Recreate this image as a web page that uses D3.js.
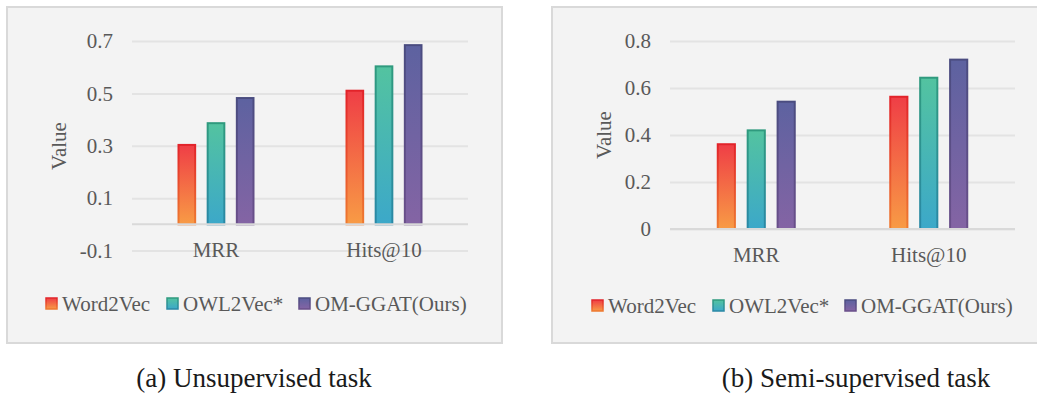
<!DOCTYPE html>
<html><head><meta charset="utf-8">
<script src="https://cdn.jsdelivr.net/npm/d3@7"></script>
<style>
html,body{margin:0;padding:0;background:#fff;}
svg{display:block;}
svg text{font-family:"Liberation Serif","Tinos","Times New Roman","DejaVu Serif",serif;}
</style></head>
<body>
<svg id="chart" width="1037" height="398"></svg>
<script>
const categories = ["MRR", "Hits@10"];
const seriesNames = ["Word2Vec", "OWL2Vec*", "OM-GGAT(Ours)"];
const unsupervisedValues = [[0.307, 0.514], [0.390, 0.607], [0.486, 0.688]];
const semiValues = [[0.365, 0.567], [0.424, 0.648], [0.546, 0.725]];
const unsupervisedTicks = [-0.1, 0.1, 0.3, 0.5, 0.7];
const semiTicks = [0, 0.2, 0.4, 0.6, 0.8];
const captions = ["(a) Unsupervised task", "(b) Semi-supervised task"];

const gradients = [
  {top: "#ef3e46", bottom: "#f89b45", sTop: "#e2232a", sBottom: "#ee7a30"},
  {top: "#53c3a0", bottom: "#3ca8c9", sTop: "#2f9a7e", sBottom: "#2a88a6"},
  {top: "#5d62a0", bottom: "#8464a4", sTop: "#4a4c80", sBottom: "#6a4f8a"}
];

const svg = d3.select("#chart");
const defs = svg.append("defs");
gradients.forEach((g, i) => {
  const lg = defs.append("linearGradient").attr("id", "fill" + i)
    .attr("x1", 0).attr("y1", 0).attr("x2", 0).attr("y2", 1);
  lg.append("stop").attr("offset", "0%").attr("stop-color", g.top);
  lg.append("stop").attr("offset", "100%").attr("stop-color", g.bottom);
  const ls = defs.append("linearGradient").attr("id", "stroke" + i)
    .attr("x1", 0).attr("y1", 0).attr("x2", 0).attr("y2", 1);
  ls.append("stop").attr("offset", "0%").attr("stop-color", g.sTop);
  ls.append("stop").attr("offset", "100%").attr("stop-color", g.sBottom);
});

const font = '"Liberation Serif","Tinos","Times New Roman","DejaVu Serif",serif';
const fs = 21;

function panel(cfg) {
  const g = svg.append("g");
  g.append("rect").attr("x", cfg.box[0]).attr("y", cfg.box[1])
    .attr("width", cfg.box[2]).attr("height", cfg.box[3])
    .attr("fill", "#f3f3f3").attr("stroke", "#d9d9d9").attr("stroke-width", 2);

  const y = d3.scaleLinear().domain(cfg.domain).range([cfg.yBottom, cfg.yTop]);
  const x0 = d3.scaleBand().domain(categories).range([cfg.xLeft, cfg.xRight]);
  const x1 = d3.scaleBand().domain(d3.range(seriesNames.length))
    .range([x0.bandwidth()/2 - cfg.groupW/2, x0.bandwidth()/2 + cfg.groupW/2]).paddingInner(cfg.innerPad);

  const axis = d3.axisLeft(y).tickValues(cfg.ticks).tickSize(-(cfg.xRight - cfg.xLeft))
    .tickPadding(19).tickFormat(d => String(+d.toFixed(1)));
  const ag = g.append("g").attr("transform", `translate(${cfg.xLeft},0)`).call(axis)
    .attr("font-family", font).attr("font-size", fs);
  ag.select(".domain").remove();
  ag.selectAll(".tick line").attr("stroke", "#e3e3e3").attr("stroke-width", 2);
  ag.selectAll(".tick text").attr("fill", "#595959");

  const groups = g.selectAll(".grp").data(categories).enter().append("g")
    .attr("transform", d => `translate(${x0(d)},0)`);
  groups.selectAll("rect").data((c, ci) => seriesNames.map((s, si) => ({si, v: cfg.values[si][ci]})))
    .enter().append("rect")
    .attr("x", d => x1(d.si) + 1)
    .attr("width", x1.bandwidth() - 2)
    .attr("y", d => y(d.v) + 1)
    .attr("height", d => y(0) - y(d.v) - 1)
    .attr("fill", d => `url(#fill${d.si})`)
    .attr("stroke", d => `url(#stroke${d.si})`)
    .attr("stroke-width", 2);

  g.append("line").attr("x1", cfg.xLeft).attr("x2", cfg.xRight)
    .attr("y1", y(0)).attr("y2", y(0)).attr("stroke", "#d9d9d9").attr("stroke-width", 2);

  g.selectAll(".cat").data(categories).enter().append("text")
    .attr("x", d => x0(d) + x0.bandwidth()/2).attr("y", cfg.catY)
    .attr("text-anchor", "middle").attr("fill", "#595959")
    .attr("font-size", fs).text(d => d);

  g.append("text").attr("transform", `translate(${cfg.titleX},${cfg.titleY}) rotate(-90)`)
    .attr("text-anchor", "middle").attr("fill", "#595959")
    .attr("font-size", fs).text("Value");

  const lg = g.append("g");
  seriesNames.forEach((s, i) => {
    lg.append("rect").attr("x", cfg.legendX[i]).attr("y", cfg.legendY - 6)
      .attr("width", 11).attr("height", 11)
      .attr("fill", `url(#fill${i})`).attr("stroke", `url(#stroke${i})`).attr("stroke-width", 1.5);
    lg.append("text").attr("x", cfg.legendX[i] + 16).attr("y", cfg.legendY + 7)
      .attr("fill", "#595959").attr("font-size", fs).text(s);
  });

  svg.append("text").attr("x", cfg.capX).attr("y", 387).attr("text-anchor", "middle")
    .attr("fill", "#1a1a1a").attr("font-size", 27).text(cfg.caption);
}

panel({
  box: [7, 7, 495, 336],
  domain: [-0.1, 0.7], yBottom: 250.5, yTop: 41, ticks: unsupervisedTicks,
  xLeft: 132, xRight: 468, groupW: 77, innerPad: 0.36,
  values: unsupervisedValues, catY: 257, titleX: 66, titleY: 146,
  legendX: [46, 167, 299], legendY: 304, capX: 254, caption: captions[0]
});
panel({
  box: [552, 7, 495, 336],
  domain: [0, 0.8], yBottom: 229, yTop: 41, ticks: semiTicks,
  xLeft: 670, xRight: 1015, groupW: 79, innerPad: 0.36,
  values: semiValues, catY: 262, titleX: 611, titleY: 135,
  legendX: [592, 713, 845], legendY: 306, capX: 856, caption: captions[1]
});
</script>
</body></html>
